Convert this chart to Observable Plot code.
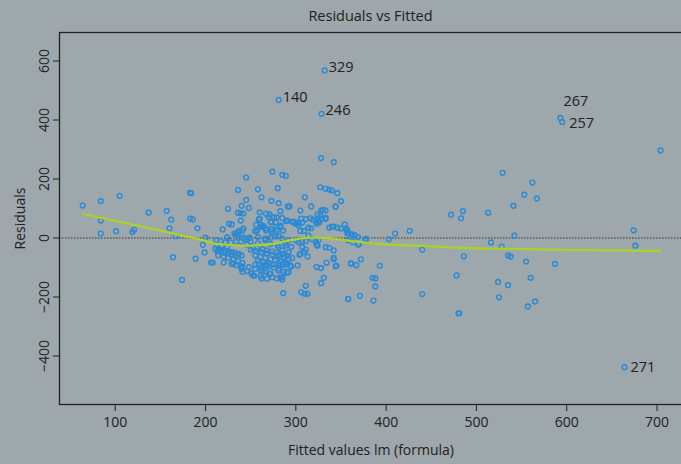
<!DOCTYPE html>
<html><head><meta charset="utf-8">
<script src="https://cdn.jsdelivr.net/npm/d3@7"></script>
<script src="https://cdn.jsdelivr.net/npm/@observablehq/plot@0.6"></script>
<style>
html,body{margin:0;padding:0;background:#9da7ac;overflow:hidden;width:681px;height:464px}
#title{position:absolute;left:59px;width:623px;top:6px;line-height:20px;text-align:center;font-family:"Open Sans";font-size:14.5px;color:#222}
#chart{position:absolute;left:0;top:22px}
#chart svg{max-width:none !important;height:442px !important}
</style></head>
<body>
<div id="title">Residuals vs Fitted</div>
<div id="chart"></div>
<script>
// [fitted, residual] pairs
const sparseLeft = [[64,110],[84,125],[105,143],[84,59],[84,15],[101,23],[119,20],[121,28],[137,86],[157,92],[162,62],[160,33],[167,6],[183,153],[184,152],[183,66],[186,63],[191,33],[200,1],[197,-23],[199,-49],[164,-65],[189,-70],[174,-142],[206,-83]];
const upperCore = [[225,99],[236,163],[245,205],[245,129],[258,165],[262,138],[274,225],[280,169],[285,214],[289,211],[328,271],[342,257],[310,138],[317,107],[344,107],[346,152],[327,172],[333,167],[337,164],[340,161],[219,29],[226,48],[229,46],[236,86],[239,84],[242,83],[235,12],[241,25],[248,102],[256,45],[260,65],[260,87],[267,82],[271,80],[273,54],[276,70],[279,70],[283,37],[289,57],[291,107],[293,107],[297,56],[303,50],[305,93],[316,67],[319,62],[323,54],[325,56],[328,93],[330,95],[333,93],[333,65],[273,126],[240,109],[264,41],[278,53],[242,32],[281,118],[283,91],[285,68],[324,80],[327,75],[350,125],[344,106]];
const nearZero = [[224,3],[242,1],[249,1],[258,3],[266,-2],[272,1],[278,5],[233,16],[236,19],[232,14],[236,10],[255,23],[262,39],[267,32],[273,30],[279,28],[263,37],[267,25],[273,22],[285,-3],[292,-8],[300,-8],[307,-11],[311,-11],[318,-4],[322,-13],[325,-8],[314,8],[303,42],[305,24],[309,24],[314,35],[317,33],[290,58],[297,53],[300,48],[306,66],[311,64],[323,62],[329,66],[333,68],[323,48],[326,53],[337,35],[340,39],[354,46],[356,31],[358,16],[362,12],[342,39],[346,35],[350,32],[212,-8],[217,-11],[222,-15],[228,-15],[234,-13],[239,-13],[239,59],[237,23],[244,-3],[248,-1],[259,63],[261,45],[257,25],[270,71],[272,54],[274,14],[278,37],[283,42],[286,25],[281,8],[291,59],[297,54],[302,52],[307,52]];
const denseCore = [[211,-37],[215,-39],[218,-41],[222,-43],[226,-46],[229,-48],[233,-51],[237,-55],[240,-59],[213,-44],[217,-47],[221,-50],[225,-53],[229,-56],[233,-59],[214,-59],[220,-63],[225,-67],[231,-72],[236,-78],[241,-84],[229,-88],[234,-92],[240,-96],[212,-22],[218,-27],[224,-30],[252,-31],[257,-35],[263,-38],[268,-42],[274,-46],[279,-50],[285,-55],[290,-60],[296,-68],[255,-59],[261,-63],[266,-68],[272,-72],[277,-76],[283,-80],[288,-85],[294,-93],[259,-88],[265,-92],[270,-96],[276,-100],[281,-104],[287,-114],[255,-104],[261,-109],[266,-114],[272,-121],[240,-104],[246,-112],[251,-121],[274,-133],[279,-137],[285,-141],[253,-127],[261,-129],[268,-138],[303,-14],[307,-31],[309,-48],[250,-40],[256,-44],[262,-48],[268,-52],[274,-56],[280,-60],[258,-78],[264,-82],[270,-86],[276,-90],[282,-94],[250,-12],[258,-18],[266,-8],[272,-20],[280,-25],[288,-18],[295,-30],[246,-22]];
const lowerCore = [[241,-115],[248,-99],[255,-90],[262,-99],[268,-92],[254,-128],[262,-137],[271,-121],[263,-113],[283,-133],[292,-116],[290,-118],[281,-110],[285,-133],[208,-83],[220,-83],[231,-85],[240,-99],[281,-87],[286,-90],[290,-90],[292,-71],[282,-59],[287,-65],[285,-42],[292,-49],[281,-31],[289,-26],[333,-31],[337,-33],[323,-22],[311,-40],[313,-63],[304,-57],[295,-97],[323,-98],[328,-102],[334,-84],[342,-42],[342,-67],[345,-94],[361,-86],[331,-135],[328,-153],[311,-162],[306,-184],[310,-189],[313,-189],[286,-187],[358,-206],[302,-93],[305,-54],[324,-26],[342,-72],[344,-96]];
const rightMid = [[355,32],[357,25],[357,16],[361,14],[365,10],[363,-14],[370,-21],[358,-8],[378,-3],[403,-4],[410,15],[426,24],[440,-40],[372,-72],[361,-87],[367,-92],[393,-94],[385,-135],[388,-137],[388,-164],[371,-196],[358,-207],[386,-212],[440,-190],[369,-22],[365,8],[369,3],[377,-4]];
const sparseRight = [[704,297],[529,221],[562,188],[553,147],[567,134],[541,109],[472,79],[485,91],[483,67],[513,86],[674,26],[542,8],[516,-15],[528,-29],[676,-26],[486,-62],[535,-59],[538,-63],[555,-80],[587,-88],[478,-127],[524,-149],[535,-160],[560,-135],[525,-201],[557,-232],[565,-215],[480,-255],[481,-255]];
const outliers = [[332,568],[281,468],[328.5,421],[593,407],[595,393],[664,-438]];
const outlierIds = ["329","140","246","267","257","271"];
// lowess smoother
const smoothFitted = [64,100,140,172,198,209,225,240,255,268,280,290,305,320,335,350,375,400,440,480,520,560,600,650,704];
const smoothResid = [82,58,32,10,-8,-18,-23,-26,-25,-22,-17,-10,-2,1,0,-6,-15,-22,-27,-33,-36,-38,-40,-42,-44];
const xTicks = [100,200,300,400,500,600,700];
const yTicks = [-400,-200,0,200,400,600];

const pts = [...sparseLeft,...upperCore,...nearZero,...denseCore,...lowerCore,...rightMid,...sparseRight,...outliers]
  .map(([f,r]) => ({f, r}));
const labels = outliers.map(([f,r],i) => ({f, r, id: outlierIds[i]}));
const smooth = smoothFitted.map((f,i) => ({f, r: smoothResid[i]}));
const pick = ids => labels.filter(d => ids.includes(d.id));

const chart = Plot.plot({
  width: 690, height: 442,
  marginLeft: 59, marginRight: 8, marginTop: 10, marginBottom: 60,
  style: {background: "transparent", fontFamily: "Open Sans", fontSize: "14px", color: "#222", overflow: "visible", maxWidth: "none"},
  x: {domain: [38.3, 728.2], ticks: xTicks, tickSize: 7, tickPadding: 6, label: "Fitted values lm (formula)", labelAnchor: "center", labelArrow: "none", labelOffset: 50},
  y: {domain: [-564.4, 696.6], ticks: yTicks, tickSize: 6, tickPadding: 5, tickRotate: -90, label: "Residuals", labelAnchor: "center", labelArrow: "none", labelOffset: 44},
  marks: [
    Plot.ruleY([0], {stroke: "#333", strokeDasharray: "1.5 1.5", strokeWidth: 1}),
    Plot.dot(pts, {x: "f", y: "r", r: 2.4, stroke: "#2b8ad6", strokeWidth: 1.4, fill: "none"}),
    Plot.line(smooth, {x: "f", y: "r", stroke: "#a9d12c", strokeWidth: 2.3, curve: "natural"}),
    Plot.text(pick(["329","140","246"]), {x: "f", y: "r", text: "id", textAnchor: "start", dx: 4, dy: -3, fontSize: 14.5, fill: "#222"}),
    Plot.text(pick(["267"]), {x: "f", y: "r", text: "id", textAnchor: "start", dx: 3, dy: -17, fontSize: 14.5, fill: "#222"}),
    Plot.text(pick(["257"]), {x: "f", y: "r", text: "id", textAnchor: "start", dx: 7, dy: 1, fontSize: 14.5, fill: "#222"}),
    Plot.text(pick(["271"]), {x: "f", y: "r", text: "id", textAnchor: "start", dx: 6, dy: 0, fontSize: 14.5, fill: "#222"}),
    Plot.frame({stroke: "#222", strokeWidth: 1.3})
  ]
});
document.getElementById("chart").appendChild(chart);
</script>
</body></html>
